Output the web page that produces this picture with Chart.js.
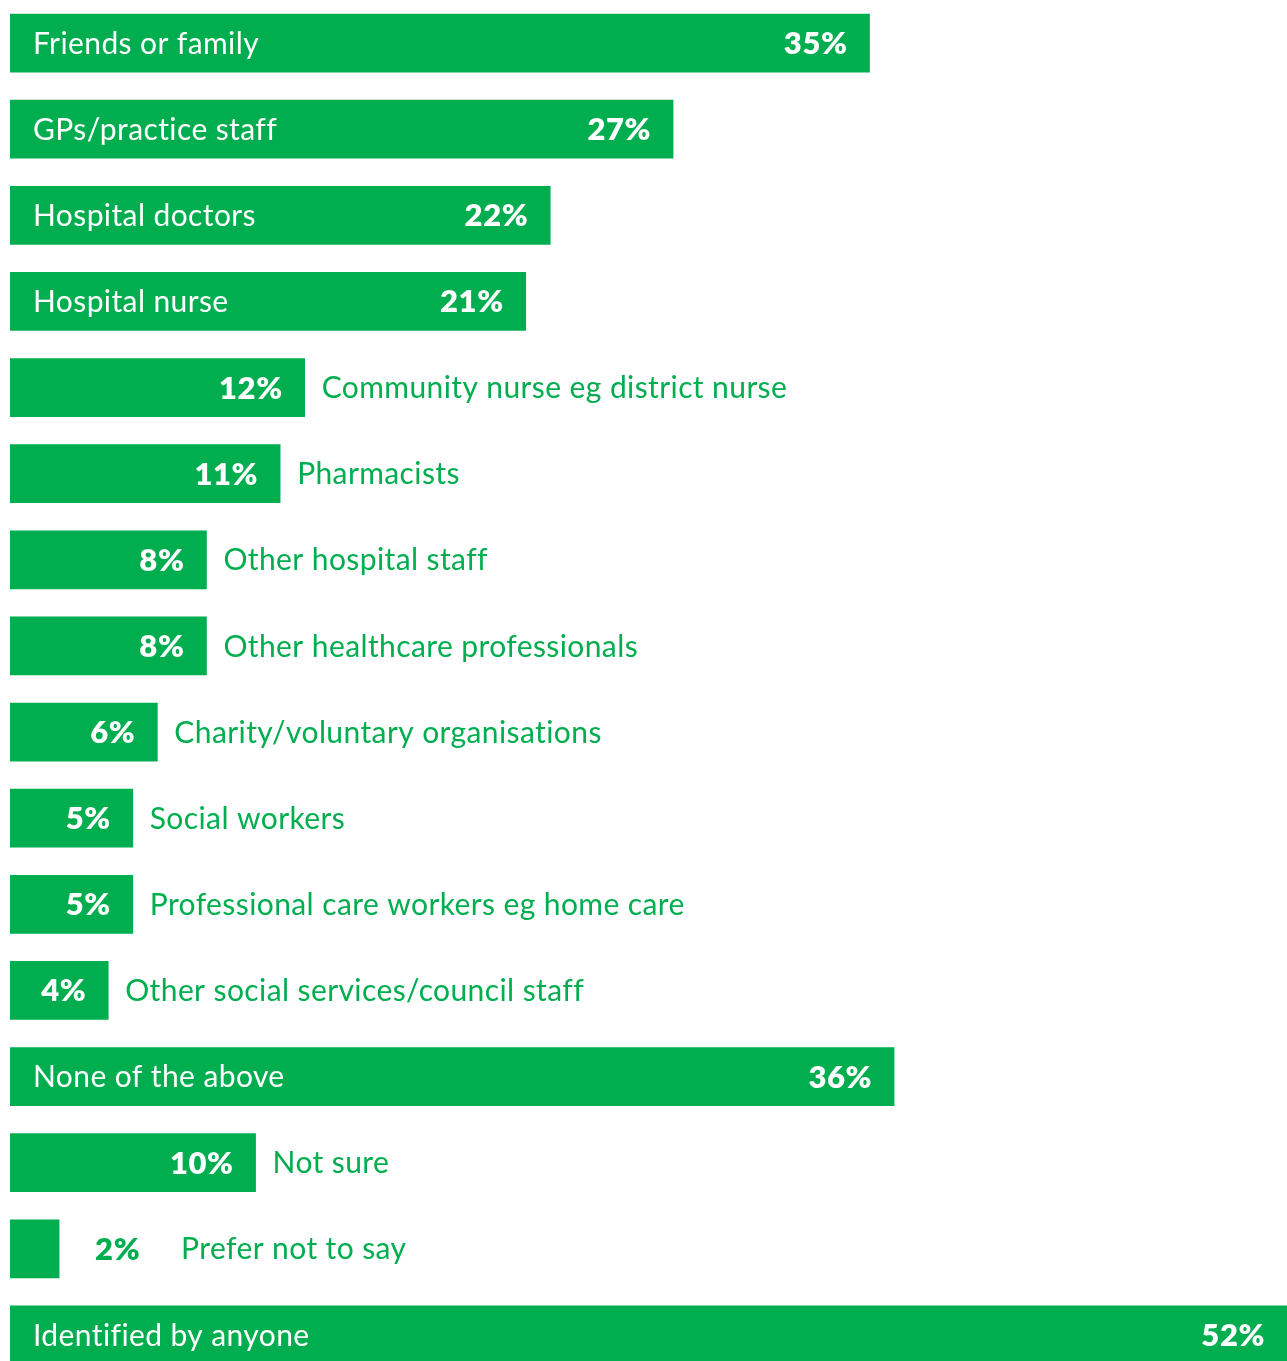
<!DOCTYPE html>
<html>
<head>
<meta charset="utf-8">
<script src="https://cdn.jsdelivr.net/npm/chart.js@4/dist/chart.umd.min.js"></script>
<style>
  html, body { margin: 0; padding: 0; background: #fff; overflow: hidden; }
  #wrap { width: 1287px; height: 1378px; position: relative; }
</style>
</head>
<body>
<div id="wrap"><canvas id="sourcesChart"></canvas></div>
<script>
const categories = [
    'Friends or family',
    'GPs/practice staff',
    'Hospital doctors',
    'Hospital nurse',
    'Community nurse eg district nurse',
    'Pharmacists',
    'Other hospital staff',
    'Other healthcare professionals',
    'Charity/voluntary organisations',
    'Social workers',
    'Professional care workers eg home care',
    'Other social services/council staff',
    'None of the above',
    'Not sure',
    'Prefer not to say',
    'Identified by anyone'
];
const values = [35, 27, 22, 21, 12, 11, 8, 8, 6, 5, 5, 4, 36, 10, 2, 52];

const GREEN = '#00ae4f';
const FONT = 'Lato, "Noto Sans", sans-serif';

// writes the category name and the percentage on or beside each bar
const barLabels = {
    id: 'barLabels',
    afterDatasetsDraw(chart) {
        const c = chart.ctx;
        const meta = chart.getDatasetMeta(0);
        const x0 = chart.scales.x.getPixelForValue(0);
        c.save();
        c.textBaseline = 'middle';
        meta.data.forEach((bar, i) => {
            const v = values[i];
            const y = bar.y + 1;
            const pct = v + '%';
            const bold = '800 31px ' + FONT;
            const reg = '400 30px ' + FONT;
            if (v >= 20) {
                c.fillStyle = '#fff';
                c.font = reg;
                c.letterSpacing = '0.4px';
                c.textAlign = 'left';
                c.fillText(categories[i], x0 + 23, y);
                c.font = bold;
                c.letterSpacing = '0.6px';
                c.textAlign = 'right';
                c.fillText(pct, bar.x - 22, y);
            } else if (v >= 3) {
                c.fillStyle = '#fff';
                c.font = bold;
                c.letterSpacing = '0.6px';
                c.textAlign = 'right';
                c.fillText(pct, bar.x - 22, y);
                c.fillStyle = GREEN;
                c.font = reg;
                c.letterSpacing = '0.4px';
                c.textAlign = 'left';
                c.fillText(categories[i], bar.x + 17, y);
            } else {
                c.fillStyle = GREEN;
                c.font = bold;
                c.letterSpacing = '0.6px';
                c.textAlign = 'left';
                c.fillText(pct, bar.x + 36, y);
                c.font = reg;
                c.letterSpacing = '0.4px';
                c.fillText(categories[i], bar.x + 122, y);
            }
        });
        c.restore();
    }
};

const ctx = document.getElementById('sourcesChart').getContext('2d');
const sourcesChart = new Chart(ctx, {
    type: 'bar',
    data: {
        labels: categories,
        datasets: [{
            data: values,
            backgroundColor: GREEN,
            borderWidth: 0,
            barThickness: 58
        }]
    },
    options: {
        indexAxis: 'y',
        responsive: true,
        maintainAspectRatio: false,
        animation: false,
        layout: { padding: { left: 10, right: 0, top: 0, bottom: 0 } },
        plugins: {
            legend: { display: false },
            tooltip: { enabled: false }
        },
        scales: {
            x: { display: false, min: 0, max: 52 },
            y: { display: false }
        }
    },
    plugins: [barLabels]
});
</script>
</body>
</html>
